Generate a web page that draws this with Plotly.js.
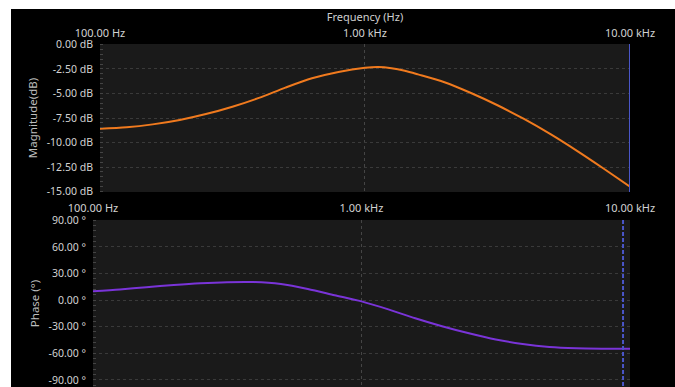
<!DOCTYPE html>
<html><head><meta charset="utf-8">
<script src="https://cdn.plot.ly/plotly-3.0.1.min.js"></script>
<style>
html,body{margin:0;padding:0;background:#ffffff;overflow:hidden}
#chart{position:absolute;left:11px;top:9px;width:664px;height:378px}
</style></head>
<body><div id="chart"></div>
<script>
// Magnitude response (Hz, dB)
const magFreq = [100, 126, 158, 200, 251, 316, 398, 501, 631, 794, 1000, 1122, 1259, 1413, 1585, 1995, 2512, 3162, 3981, 5012, 6310, 7943, 10000];
const magDb   = [-8.6, -8.45, -8.15, -7.7, -7.1, -6.35, -5.45, -4.4, -3.45, -2.8, -2.38, -2.3, -2.42, -2.68, -3.05, -3.85, -4.95, -6.2, -7.6, -9.15, -10.85, -12.65, -14.5];
// Phase response (Hz, degrees)
const phaseFreq = [100, 126, 158, 200, 251, 316, 398, 501, 631, 794, 1000, 1259, 1585, 1995, 2512, 3162, 3981, 5012, 6310, 7943, 10000];
const phaseDeg  = [10, 12, 14.5, 17, 19, 20.2, 20.3, 18, 12.5, 5.5, -1.5, -10.5, -20.5, -29.5, -37.5, -44.5, -49.5, -52.8, -54.3, -54.8, -55];
// Cursor / marker frequencies
const markerTop = [10000, 10000];
const markerBottom = [9420, 9420];
// Ticks
const freqTicks = [100, 1000, 10000];
const freqTickText = ['100.00 Hz', '1.00 kHz', '10.00 kHz'];
const magTicks = [0, -2.5, -5, -7.5, -10, -12.5, -15];
const magTickText = ['0.00 dB', '-2.50 dB', '-5.00 dB', '-7.50 dB', '-10.00 dB', '-12.50 dB', '-15.00 dB'];
const phaseTicks = [90, 60, 30, 0, -30, -60, -90];
const phaseTickText = ['90.00 °', '60.00 °', '30.00 °', '0.00 °', '-30.00 °', '-60.00 °', '-90.00 °'];

const FONT = 'Noto Sans, Liberation Sans, sans-serif';
const yTickFont = {family: FONT, size: 10.5, color: '#d2d2d2'};
const xTickFont = {family: FONT, size: 11, color: '#d2d2d2'};
const gridColor = '#3a3a3a';

const traces = [
  {x: magFreq, y: magDb, xaxis: 'x', yaxis: 'y', mode: 'lines', line: {color: '#f07a1e', width: 2, shape: 'spline', smoothing: 0.8}, hoverinfo: 'skip'},
  {x: markerTop, y: [0.05, -15.05], xaxis: 'x', yaxis: 'y', mode: 'lines', line: {color: '#4a56c8', width: 2}, hoverinfo: 'skip'},
  {x: phaseFreq, y: phaseDeg, xaxis: 'x2', yaxis: 'y2', mode: 'lines', line: {color: '#7a34d8', width: 2, shape: 'spline', smoothing: 0.8}, hoverinfo: 'skip'},
  {x: markerBottom, y: [90.3, -98], xaxis: 'x2', yaxis: 'y2', mode: 'lines', line: {color: '#4a56c8', width: 2, dash: '4px,2px'}, hoverinfo: 'skip'}
];

const xCommon = {
  type: 'log', range: [2, 4], side: 'top', tickmode: 'array', tickvals: freqTicks, ticktext: freqTickText,
  tickfont: xTickFont, ticks: '', showline: false, zeroline: false, ticklabelstandoff: 4,
  showgrid: true, gridcolor: '#454545', griddash: 'dot', gridwidth: 1, fixedrange: true
};

const yCommon = {
  tickmode: 'array', tickfont: yTickFont, ticks: '', showline: false, zeroline: false,
  showgrid: true, gridcolor: gridColor, griddash: '3px,3px', ticklabelstandoff: 6, ticklabeloverflow: 'allow'
};

const layout = {
  width: 664, height: 378,
  margin: {l: 82, r: 45, t: 35, b: 0, pad: 0},
  paper_bgcolor: '#000000', plot_bgcolor: '#1a1a1a',
  showlegend: false,
  xaxis: Object.assign({}, xCommon, {domain: [0.013, 1], anchor: 'y',
    title: {text: 'Frequency (Hz)', font: {family: FONT, size: 11, color: '#cfcfcf'}, standoff: 0}}),
  yaxis: Object.assign({}, yCommon, {domain: [0.5685, 1], anchor: 'x', range: [-15.05, 0.05], tickvals: magTicks, ticktext: magTickText,
    title: {text: 'Magnitude(dB)', font: {family: FONT, size: 11.5, color: '#bdbdbd'}, standoff: 6},
    minor: {ticks: 'inside', ticklen: 3, tickcolor: '#444444', dtick: 0.5, showgrid: false}}),
  xaxis2: Object.assign({}, xCommon, {domain: [0, 1], anchor: 'y2', ticklabelstandoff: 5}),
  yaxis2: Object.assign({}, yCommon, {domain: [0, 0.487], anchor: 'x2', range: [-98, 90.3], tickvals: phaseTicks, ticktext: phaseTickText,
    title: {text: 'Phase (°)', font: {family: FONT, size: 11.5, color: '#bdbdbd'}, standoff: 6},
    minor: {ticks: 'inside', ticklen: 3, tickcolor: '#444444', dtick: 6, showgrid: false}})
};

Plotly.newPlot('chart', traces, layout, {displayModeBar: false, staticPlot: true});
</script>
</body></html>
